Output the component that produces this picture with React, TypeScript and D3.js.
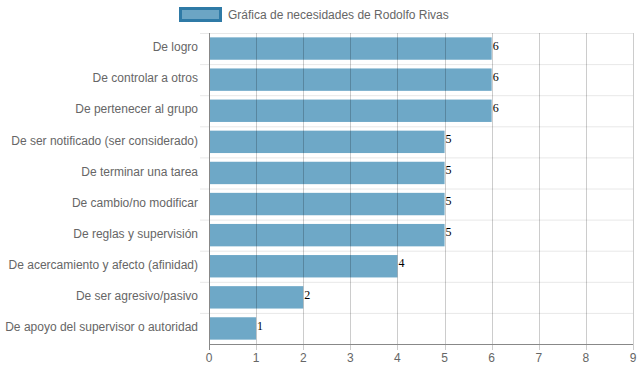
import { useMemo } from "react";
import * as d3 from "d3";

const categories = [
  "De logro",
  "De controlar a otros",
  "De pertenecer al grupo",
  "De ser notificado (ser considerado)",
  "De terminar una tarea",
  "De cambio/no modificar",
  "De reglas y supervisión",
  "De acercamiento y afecto (afinidad)",
  "De ser agresivo/pasivo",
  "De apoyo del supervisor o autoridad",
];
const values = [6, 6, 6, 5, 5, 5, 5, 4, 2, 1];
const xTicks = [0, 1, 2, 3, 4, 5, 6, 7, 8, 9];
const seriesLabel = "Gráfica de necesidades de Rodolfo Rivas";

const width = 639;
const height = 372;
const margin = { top: 33, right: 6, bottom: 28, left: 209 };
const font = "'Liberation Sans', Arial, Helvetica, sans-serif";

export default function App() {
  const { x, y } = useMemo(() => {
    const x = d3
      .scaleLinear()
      .domain([0, 9])
      .range([margin.left, width - margin.right]);
    const y = d3
      .scaleBand<string>()
      .domain(categories)
      .range([margin.top, height - margin.bottom]);
    return { x, y };
  }, []);

  const band = y.bandwidth();
  const barH = band * 0.72;
  const bottom = height - margin.bottom;

  return (
    <div style={{ position: "absolute", left: 0, top: 0 }}>
      <svg width={width} height={height} style={{ display: "block" }}>
        {/* legend */}
        <rect x={180.5} y={8.5} width={40} height={12} fill="#6ca5c4" stroke="#2f7aa6" strokeWidth={3} />
        <text x={228} y={19} fontFamily={font} fontSize={12} fill="#666">
          {seriesLabel}
        </text>

        {/* horizontal grid */}
        {categories.map((c, i) => (
          <line
            key={"h" + i}
            x1={margin.left - 9}
            x2={width - margin.right}
            y1={(y(c) ?? 0) + 0.5}
            y2={(y(c) ?? 0) + 0.5}
            stroke="#e8e8e8"
          />
        ))}

        {/* bars */}
        {categories.map((c, i) => (
          <rect
            key={"b" + i}
            x={x(0)}
            y={(y(c) ?? 0) + (band - barH) / 2}
            width={x(values[i]) - x(0)}
            height={barH}
            fill="rgba(78,149,187,0.82)"
          />
        ))}

        {/* vertical grid */}
        {xTicks.map((t) => (
          <line
            key={"v" + t}
            x1={Math.round(x(t)) + 0.5}
            x2={Math.round(x(t)) + 0.5}
            y1={margin.top}
            y2={bottom + 6}
            stroke={t === 0 ? "#888" : "rgba(0,0,0,0.2)"}
          />
        ))}
        <line x1={x(0)} x2={width - margin.right} y1={bottom + 0.5} y2={bottom + 0.5} stroke="#888" />

        {/* category labels */}
        {categories.map((c, i) => (
          <text
            key={"l" + i}
            x={margin.left - 11}
            y={(y(c) ?? 0) + band / 2 - 1.5}
            dy="0.35em"
            textAnchor="end"
            fontFamily={font}
            fontSize={12}
            fill="#666"
          >
            {c}
          </text>
        ))}

        {/* x ticks */}
        {xTicks.map((t) => (
          <text
            key={"t" + t}
            x={x(t)}
            y={bottom + 18}
            textAnchor="middle"
            fontFamily={font}
            fontSize={12}
            fill="#666"
          >
            {t}
          </text>
        ))}

        {/* value labels */}
        {categories.map((c, i) => (
          <text
            key={"v" + i}
            x={x(values[i]) + 1}
            y={(y(c) ?? 0) + band / 2 - 3}
            dy="0.35em"
            fontFamily="'Liberation Serif', 'Times New Roman', serif"
            fontSize={12}
            fill="#000"
          >
            {values[i]}
          </text>
        ))}
      </svg>
    </div>
  );
}
